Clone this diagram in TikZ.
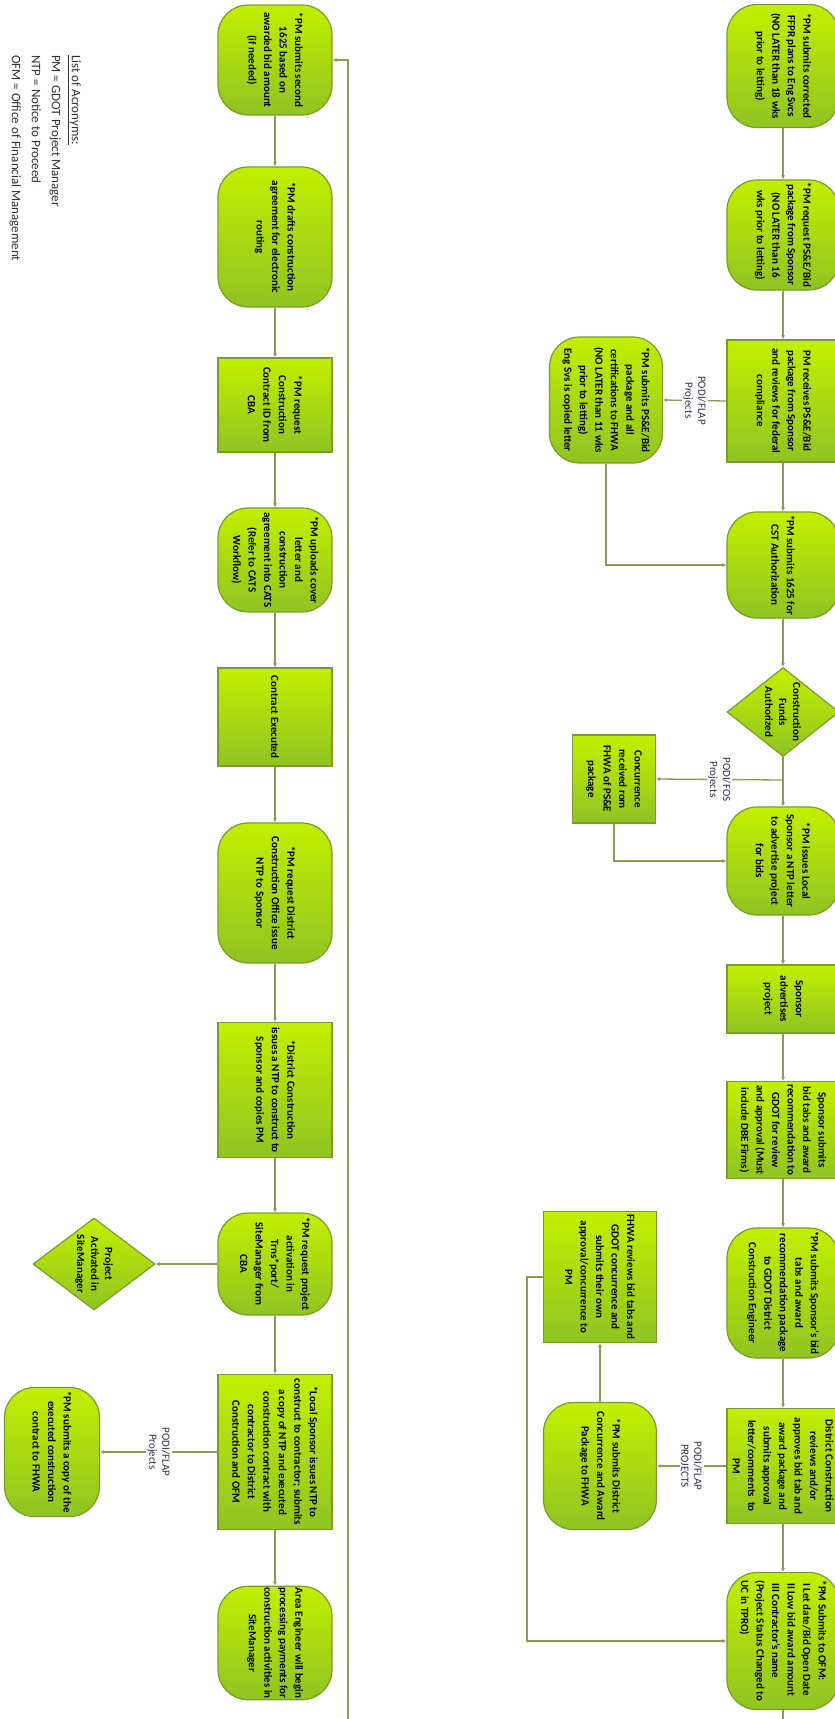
\documentclass[tikz,border=0pt]{standalone}
\usepackage{fontspec}
\setmainfont{Carlito}
\usetikzlibrary{shapes.geometric,arrows.meta}
\definecolor{gLight}{HTML}{C3EF00}
\definecolor{gDark}{HTML}{8FC423}
\definecolor{gEdge}{HTML}{7D9B2A}
\definecolor{lineC}{HTML}{8A9B55}
\definecolor{labC}{HTML}{2E3048}
\definecolor{acrC}{HTML}{30303C}
\tikzset{
  procbase/.style={rotate=-90, draw=gEdge, line width=1.2pt, top color=gLight, bottom color=gDark,
    align=center, font=\fontsize{11}{15.5}\selectfont\bfseries, inner sep=1pt, text=black},
  procR/.style={procbase, rounded corners=30pt},
  procS/.style={procbase},
  decD/.style={procbase, diamond, inner sep=0pt},
  dtext/.style={rotate=-90, align=center, font=\fontsize{11}{14}\selectfont\bfseries, inner sep=0pt, text=black},
  lab/.style={rotate=-90, fill=white, align=center, font=\fontsize{11}{13}\selectfont, text=labC, inner sep=1.5pt},
  arr/.style={draw=lineC, line width=1.3pt, -{Latex[length=4pt,width=4pt]}},
}
\begin{document}
\begin{tikzpicture}[x=1pt,y=1pt]
\fill[white] (0,0) rectangle (835,-1719);
\useasboundingbox (0,0) rectangle (835,-1719);

% ---------- right column ----------
\node[procR, minimum width=123pt, minimum height=112pt] (R1) at (783,-66)
  {*PM submits corrected\\FFPR plans to Eng Svcs\\(NO LATER than 18 wks\\prior to letting)};
\node[procR, minimum width=110pt, minimum height=112pt] (R2) at (783,-235)
  {*PM request PS\&E/Bid\\package from Sponsor\\(NO LATER than 16\\wks prior to letting)};
\node[procS, minimum width=122pt, minimum height=112pt] (R3) at (783,-401)
  {PM receives PS\&E/Bid\\package from Sponsor\\and reviews for federal\\compliance};
\node[procR, minimum width=126pt, minimum height=113pt] (R3b) at (606,-400)
  {*PM submits PS\&E/Bid\\package and all\\certifications to FHWA\\(NO LATER than 11 wks\\prior to letting)\\Eng Svs is copied letter};
\node[procR, minimum width=106pt, minimum height=112pt] (R4) at (783,-565)
  {*PM submits 1625 for\\CST Authorization};
\node[decD, minimum width=89pt, minimum height=112pt] (R5) at (783,-712) {};
\node[dtext] (R5t) at (R5.center) {Construction\\Funds\\Authorized};
\coordinate (J1) at (783,-780);
\node[procS, minimum width=88pt, minimum height=83pt] (R5b) at (614,-779)
  {Concurrence\\received rom\\FHWA of PS\&E\\package};
\node[procR, minimum width=108pt, minimum height=112pt] (R6) at (783,-861)
  {*PM issues Local\\Sponsor a NTP letter\\to advertise project\\for bids};
\node[procS, minimum width=68pt, minimum height=112pt] (R7) at (783,-999)
  {Sponsor\\advertises\\project};
\node[procS, minimum width=97pt, minimum height=112pt] (R8) at (783,-1130)
  {Sponsor submits\\bid tabs and award\\recommendation to\\GDOT for review\\and approval (Must\\include DBE Firms)};
\node[procR, minimum width=130pt, minimum height=112pt] (R9) at (783,-1293)
  {*PM submits Sponsor’s bid\\tabs and award\\recommendation package\\to GDOT District\\Construction Engineer};
\node[procS, minimum width=115pt, minimum height=112pt] (R10) at (783,-1466)
  {District Construction\\reviews and/or\\approves bid tab and\\award package and\\submits approval\\letter/comments\ \ to\\PM};
\node[procR, minimum width=127pt, minimum height=113pt] (R10c) at (600,-1466)
  {*PM submits District\\Concurrence and Award\\Package to FHWA};
\node[procS, minimum width=131pt, minimum height=113pt] (R10d) at (600,-1277)
  {FHWA reviews bid tabs and\\GDOT concurrence and\\submits their own\\approval/concurrence to\\PM};
\node[procR, minimum width=137pt, minimum height=112pt, align=left] (R11) at (783,-1641)
  {*PM Submits to OFM:\\\ I Let date/Bid Open Date\\\ II Low bid award amount\\\ III Contractor’s name\\(Project Status Changed to\\UC in TPRO)};
\coordinate (W4) at (527,-1277);
\coordinate (W2) at (348,-1780);

% ---------- left column ----------
\node[procR, minimum width=110pt, minimum height=114pt] (L1) at (275,-60)
  {*PM submits second\\1625 based on\\awarded bid amount\\(if needed)};
\node[procR, minimum width=140pt, minimum height=114pt] (L2) at (275,-237)
  {*PM drafts construction\\agreement for electronic\\routing};
\node[procS, minimum width=94pt, minimum height=114pt] (L3) at (275,-405)
  {*PM request\\Construction\\Contract ID from\\CBA};
\node[procR, minimum width=104pt, minimum height=114pt] (L4) at (275,-560)
  {*PM uploads cover\\letter and\\construction\\agreement into CATS\\(Refer to CATS\\Workflow)};
\node[procS, minimum width=98pt, minimum height=114pt] (L5) at (275,-717)
  {Contract Executed};
\node[procR, minimum width=140pt, minimum height=114pt] (L6) at (275,-893)
  {*PM request District\\Construction Office issue\\NTP to Sponsor};
\node[procS, minimum width=135pt, minimum height=114pt] (L7) at (275,-1090)
  {*District Construction\\issues a NTP to construct to\\Sponsor and copies PM};
\node[procR, minimum width=102pt, minimum height=114pt] (L8) at (275,-1264)
  {*PM request project\\activation in\\Trns*port/\\SiteManager from\\CBA};
\node[decD, minimum width=92pt, minimum height=122pt] (L8b) at (94,-1264) {};
\node[dtext] (L8t) at (L8b.center) {Project\\Activated in\\SiteManager};
\node[procS, minimum width=155pt, minimum height=114pt] (L9) at (275,-1452)
  {*Local Sponsor issues NTP to\\construct to contractor; submits\\a copy of NTP and executed\\construction contract with\\contractor to District\\Construction and OFM};
\node[procR, minimum width=129pt, minimum height=95pt] (L9b) at (52,-1452)
  {*PM submits a copy of the\\executed construction\\contract to FHWA};
\node[procR, minimum width=113pt, minimum height=114pt] (L10) at (275,-1643)
  {Area Engineer will begin\\processing payments for\\construction activities in\\SiteManager};

% ---------- acronyms ----------
\node[rotate=-90, anchor=north west, align=left, font=\fontsize{13}{20}\selectfont, text=acrC, inner sep=0pt] (acr) at (81,-55)
  {\underline{List of Acronyms:}\\PM = GDOT Project Manager\\NTP = Notice to Proceed\\OFM = Office of Financial Management};

% ---------- connectors right ----------
\draw[arr] (R1.east) -- (R2.west);
\draw[arr] (R2.east) -- (R3.west);
\draw[arr] (R3.south) -- (R3b.north) node[lab, midway] {PODI/FLAP\\Projects};
\draw[arr] (R3.east) -- (R4.west);
\draw[arr] (R3b.east) |- (R4.south);
\draw[arr] (R4.east) -- (R5.west);
\draw[arr] (R5.east) -- (R6.west);
\draw[arr] (J1) -- (R5b.north) node[lab, midway] {PODI/FOS\\Projects};
\draw[arr] (R5b.east) |- (R6.south);
\draw[arr] (R6.east) -- (R7.west);
\draw[arr] (R7.east) -- (R8.west);
\draw[arr] (R8.east) -- (R9.west);
\draw[arr] (R9.east) -- (R10.west);
\draw[arr] (R10.south) -- (R10c.north) node[lab, midway] {PODI/FLAP\\PROJECTS};
\draw[arr] (R10c.west) -- (R10d.east);
\draw[arr] (R10d.south) -- (W4) |- (R11.south);
\draw[arr] (R10.east) -- (R11.west);
\draw[arr] (R11.east) |- (W2) |- (L1.north);

% ---------- connectors left ----------
\draw[arr] (L1.east) -- (L2.west);
\draw[arr] (L2.east) -- (L3.west);
\draw[arr] (L3.east) -- (L4.west);
\draw[arr] (L4.east) -- (L5.west);
\draw[arr] (L5.east) -- (L6.west);
\draw[arr] (L6.east) -- (L7.west);
\draw[arr] (L7.east) -- (L8.west);
\draw[arr] (L8.south) -- (L8b.north);
\draw[arr] (L8.east) -- (L9.west);
\draw[arr] (L9.south) -- (L9b.north) node[lab, midway] {PODI/FLAP\\Projects};
\draw[arr] (L9.east) -- (L10.west);
\end{tikzpicture}
\end{document}
